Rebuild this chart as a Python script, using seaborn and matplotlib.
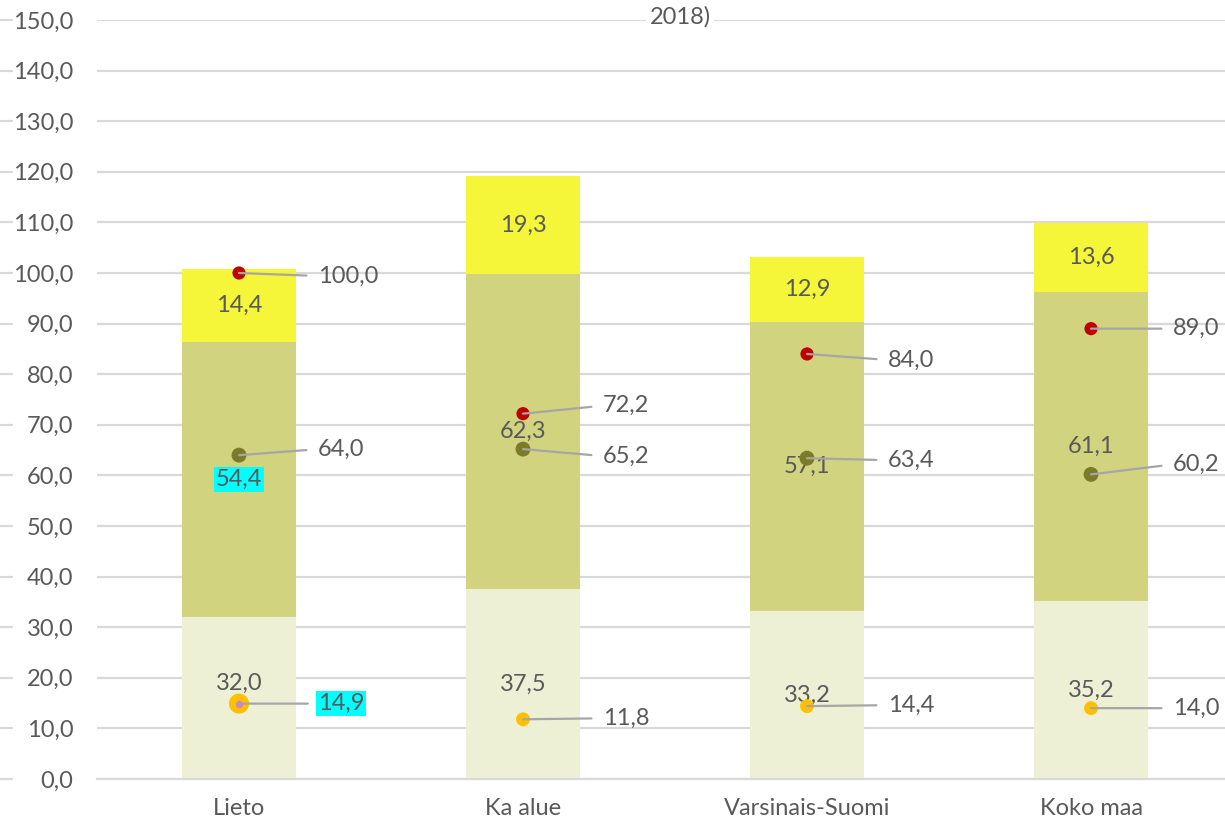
import numpy as np
import matplotlib
matplotlib.use("Agg")
import matplotlib.pyplot as plt
import matplotlib.transforms as mtransforms
import seaborn as sns
import pandas as pd

# --- data ---
categories = ["Lieto", "Ka alue", "Varsinais-Suomi", "Koko maa"]
seg_bottom = [32.0, 37.5, 33.2, 35.2]
seg_middle = [54.4, 62.3, 57.1, 61.1]
seg_top = [14.4, 19.3, 12.9, 13.6]
pts_red = [100.0, 72.2, 84.0, 89.0]
pts_olive = [64.0, 65.2, 63.4, 60.2]
pts_orange = [14.9, 11.8, 14.4, 14.0]
yticks = np.arange(0, 151, 10)

# --- style ---
C_BOTTOM = "#EEF0D5"
C_MIDDLE = "#D1D37F"
C_TOP = "#F5F53A"
C_RED = "#C00000"
C_OLIVE = "#7B7B2A"
C_ORANGE = "#FFC000"
C_TEXT = "#595959"
C_GRID = "#D9D9D9"
C_LEADER = "#A6A6A6"
CYAN = "#00FFFF"
FS = 17

sns.set_theme(style="white")
plt.rcParams["font.family"] = ["Lato", "DejaVu Sans"]

W, H = 1225, 822
fig = plt.figure(figsize=(W / 100, H / 100), dpi=100)
ax = fig.add_axes([97 / W, 43 / H, 1136 / W, 759 / H])

df = pd.DataFrame({"cat": categories, "bottom": seg_bottom,
                   "middle": seg_middle, "top": seg_top})
df["lvl2"] = df["bottom"] + df["middle"]
df["lvl3"] = df["lvl2"] + df["top"]

# stacked bars drawn as overlapping totals
for col, colr in [("lvl3", C_TOP), ("lvl2", C_MIDDLE), ("bottom", C_BOTTOM)]:
    sns.barplot(data=df, x="cat", y=col, color=colr, saturation=1,
                width=0.4, ax=ax, zorder=2, linewidth=0)

ax.set_xlim(-0.5, 3.5)
ax.set_ylim(0, 150)
ax.set_yticks(yticks)
ax.set_yticklabels([f"{v:.1f}".replace(".", ",") for v in yticks])
ax.set_xlabel("")
ax.set_ylabel("")
ax.grid(axis="y", color=C_GRID, lw=1.6, zorder=0)
ax.grid(axis="x", visible=False)
for s in ["left", "right", "top"]:
    ax.spines[s].set_visible(False)
ax.spines["bottom"].set_color(C_GRID)
ax.spines["bottom"].set_linewidth(1.6)
ax.spines["bottom"].set_zorder(3)
ax.tick_params(axis="y", length=0, pad=17, labelsize=FS, labelcolor=C_TEXT)
ax.tick_params(axis="x", length=0, pad=14, labelsize=FS, labelcolor=C_TEXT)

# gridline stubs left of the tick labels
trans = mtransforms.blended_transform_factory(ax.transAxes, ax.transData)
for v in yticks:
    ax.plot([-97 / 1136, -85 / 1136], [v, v], transform=trans,
            color=C_GRID, lw=1.6, clip_on=False)

# segment labels
nudge = {(0, 0): 3.0}
x = np.arange(len(categories))
for i in x:
    bases = [0, seg_bottom[i], seg_bottom[i] + seg_middle[i]]
    vals = [seg_bottom[i], seg_middle[i], seg_top[i]]
    for j, (b, v) in enumerate(zip(bases, vals)):
        kw = {}
        if (i, j) == (0, 1):
            kw["bbox"] = dict(boxstyle="square,pad=0.08", fc=CYAN, ec="none")
        ax.text(i, b + v / 2 + nudge.get((i, j), 0), f"{v:.1f}".replace(".", ","),
                ha="center", va="center", fontsize=FS, color=C_TEXT, zorder=5, **kw)

# points with leader-lined labels (offsets in pixels, positive = up)
label_dy = {
    "red": [-3, 8, -6, 0],
    "olive": [6, -7, -2, 10],
    "orange": [0, 1, 1, 0],
}
label_dx = [79, 80, 81, 82]
series = [("red", pts_red, C_RED, 90), ("olive", pts_olive, C_OLIVE, 115),
          ("orange", pts_orange, C_ORANGE, 100)]
for name, vals, colr, size in series:
    sizes = [size] * len(vals)
    if name == "orange":
        sizes[0] = 210
    ax.scatter(x, vals, s=sizes, color=colr, zorder=6, linewidths=0)
    for i, v in enumerate(vals):
        kw = {}
        if name == "orange" and i == 0:
            kw["bbox"] = dict(boxstyle="square,pad=0.08", fc=CYAN, ec="none")
        ax.annotate(f"{v:.1f}".replace(".", ","), xy=(i, v),
                    xytext=(label_dx[i], label_dy[name][i]),
                    textcoords="offset pixels", ha="left", va="center",
                    fontsize=FS, color=C_TEXT, zorder=7,
                    arrowprops=dict(arrowstyle="-", color=C_LEADER, lw=1.6,
                                    shrinkA=6, shrinkB=0, relpos=(0, 0.5)),
                    **kw)
# selected-marker centre on Lieto orange point
ax.scatter([0], [pts_orange[0]], s=28, color="#CC88C0", zorder=8, linewidths=0)

fig.text(680 / W, 1 - 17 / H, "2018)", ha="center", va="center", fontsize=FS,
         color=C_TEXT, bbox=dict(boxstyle="square,pad=0.15", fc="white", ec="none"))

fig.savefig("out.png", dpi=100)
